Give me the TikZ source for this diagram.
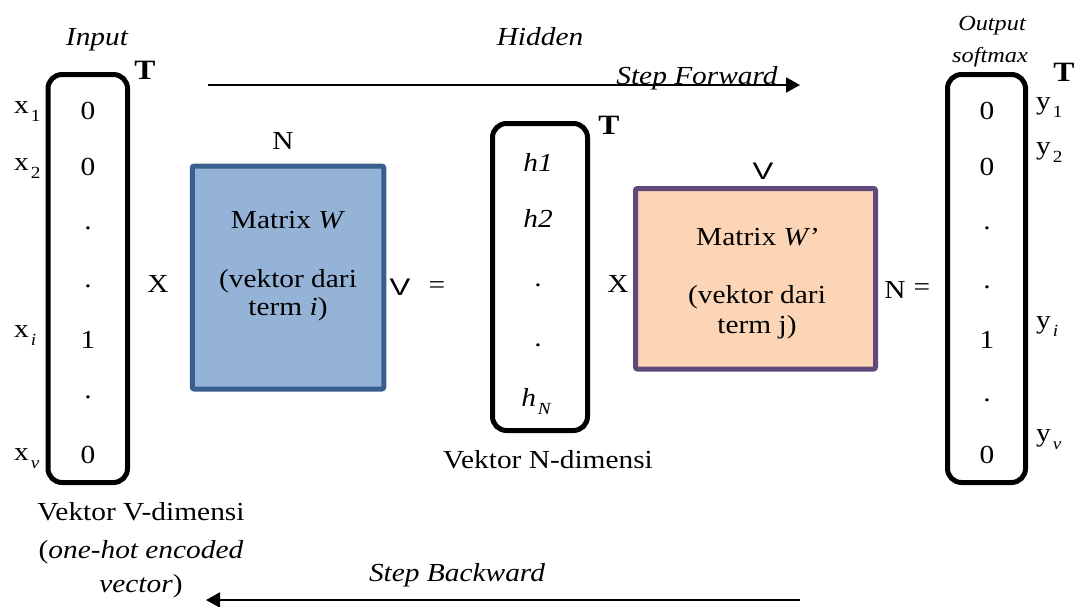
\documentclass[tikz,border=0pt]{standalone}
\usepackage{fontspec}
\setmainfont[FakeStretch=1.13]{Liberation Serif}
\newfontfamily\letterV{Liberation Sans}
\usetikzlibrary{arrows.meta}
\definecolor{wfill}{HTML}{95B3D7}
\definecolor{wline}{HTML}{3A5F8E}
\definecolor{pfill}{HTML}{FBD5B5}
\definecolor{pline}{HTML}{604A7B}
% lowered index after a letter (x_1, y_i, h_N ...)
\newcommand\lowsub[1]{\hspace{2pt}\raisebox{-8pt}{\fontsize{17}{17}\selectfont #1}}

\begin{document}
\begin{tikzpicture}[x=1pt,y=-1pt,
  every node/.style={inner sep=0pt, font=\fontsize{26}{30}\selectfont},
  vecbox/.style={draw, line width=5pt, rounded corners=14pt},
  matbox/.style={draw, line width=5pt, rounded corners=2pt},
  basetxt/.style={anchor=base},
  side/.style={anchor=base west},
  tee/.style={font=\fontsize{28}{30}\selectfont\bfseries},
  headtxt/.style={anchor=base, font=\fontsize{26}{30}\selectfont\itshape},
  smallhead/.style={anchor=base, font=\fontsize{21.5}{26}\selectfont\itshape},
  dimV/.style={font=\fontsize{24}{28}\selectfont\letterV, xscale=1.3},
  flow/.style={line width=2pt, -{Triangle[length=14pt,width=15pt]}},
]
\useasboundingbox (0,0) rectangle (1079,606);

% ---------- headings and direction arrows ----------
\node[headtxt] (inlbl) at (97,45) {Input};
\node[headtxt] (hidlbl) at (540,45) {Hidden};
\node[smallhead] (outlbl1) at (992,30) {Output};
\node[smallhead] (outlbl2) at (990,62) {softmax};

\coordinate (fwdA) at (208,85);
\coordinate (fwdB) at (800,85);
\draw[flow] (fwdA) -- (fwdB);
\node[headtxt] (fwdlbl) at (697,84) {Step Forward};

\coordinate (bwdA) at (800,600);
\coordinate (bwdB) at (206,600);
\draw[flow] (bwdA) -- (bwdB);
\node[headtxt] (bwdlbl) at (457,581) {Step Backward};

% ---------- input vector ----------
\node[vecbox, minimum width=79.5pt, minimum height=408pt] (inbox) at (87.75,278.5) {};
\node[tee] (inT) at (145,70) {T};
\node (in1) at (88,111) {0};
\node (in2) at (88,167) {0};
\node (in3) at (88,228) {.};
\node (in4) at (88,286) {.};
\node (in5) at (88,340) {1};
\node (in6) at (88,397) {.};
\node (in7) at (88,455) {0};
\node[side] (xa) at (14,113) {x\lowsub{1}};
\node[side] (xb) at (14,170) {x\lowsub{2}};
\node[side] (xc) at (14,337) {x\lowsub{\itshape i}};
\node[side] (xd) at (14,460) {x\lowsub{\itshape v}};
\node[basetxt] (invec1) at (141,520) {Vektor V-dimensi};
\node[basetxt] (invec2) at (141,558) {(\textit{one-hot encoded}};
\node[basetxt] (invec3) at (141,592) {\textit{vector})};

\node (times1) at (158,284) {X};

% ---------- matrix W ----------
\node[matbox, draw=wline, fill=wfill, minimum width=191.5pt, minimum height=223pt] (matW) at (288,277.5) {};
\node (dimN1) at (283,141) {N};
\node[basetxt] (w1) at (288,228) {Matrix \textit{W}};
\node[basetxt] (w2) at (288,287) {(vektor dari};
\node[basetxt] (w3) at (288,315) {term \textit{i})};
\node[dimV] (dimV1) at (400,287) {V};
\node (eq1) at (437,288) {=};

% ---------- hidden vector ----------
\node[vecbox, minimum width=95pt, minimum height=307pt] (hidbox) at (540,277) {};
\node[tee] (hidT) at (609,125) {T};
\node (h1) at (538,162) {\textit{h1}};
\node (h2) at (538,218) {\textit{h2}};
\node (h3) at (538,285) {.};
\node (h4) at (538,345) {.};
\node[basetxt] (h5) at (536,406) {\textit{h\lowsub{N}}};
\node[basetxt] (hidvec) at (548,468) {Vektor N-dimensi};

\node (times2) at (618,284) {X};

% ---------- matrix W' ----------
\node[matbox, draw=pline, fill=pfill, minimum width=240pt, minimum height=180.5pt] (matWp) at (755.5,278.75) {};
\node[dimV] (dimV2) at (763,171) {V};
\node[basetxt] (wp1) at (757,245) {Matrix \textit{W’}};
\node[basetxt] (wp2) at (757,303) {(vektor dari};
\node[basetxt] (wp3) at (757,333) {term j)};
\node (dimN2) at (895,290) {N};
\node (eq2) at (922,290) {=};

% ---------- output vector ----------
\node[vecbox, minimum width=78pt, minimum height=408pt] (outbox) at (986.5,278.5) {};
\node[tee] (outT) at (1064,72) {T};
\node (o1) at (987,111) {0};
\node (o2) at (987,167) {0};
\node (o3) at (987,228) {.};
\node (o4) at (987,287) {.};
\node (o5) at (987,340) {1};
\node (o6) at (987,400) {.};
\node (o7) at (987,455) {0};
\node[side] (ya) at (1036,109) {y\lowsub{1}};
\node[side] (yb) at (1036,154) {y\lowsub{2}};
\node[side] (yc) at (1036,328) {y\lowsub{\itshape i}};
\node[side] (yd) at (1036,441) {y\lowsub{\itshape v}};
\end{tikzpicture}
\end{document}
